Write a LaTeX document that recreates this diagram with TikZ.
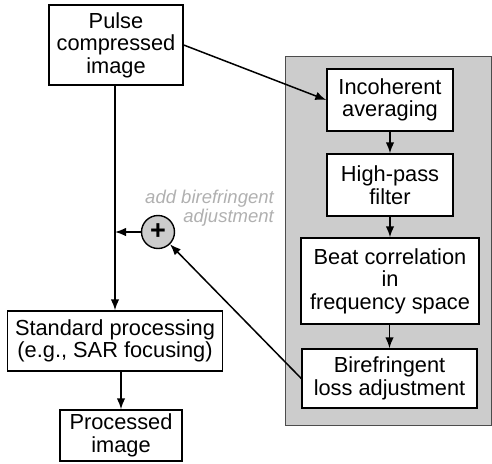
\documentclass[tikz,border=0pt]{standalone}
\usepackage{fontspec}
\setmainfont{Liberation Sans}
\usetikzlibrary{arrows.meta}
\definecolor{panelgray}{HTML}{CCCCCC}
\definecolor{labelgray}{HTML}{B0B0B0}
\tikzset{
  box/.style={draw=black, line width=1.4pt, fill=white, align=center, inner sep=0pt,
    font=\fontsize{21.8}{22.5}\selectfont},
  conn/.style={line width=1.5pt, -{Latex[length=11pt,width=8.5pt]}},
  panel/.style={draw=black!70, line width=0.8pt, fill=panelgray},
  sumnode/.style={circle, draw=black, line width=1.4pt, fill=panelgray, minimum size=33pt, inner sep=0pt},
  note/.style={text=labelgray, font=\fontsize{18.5}{19}\selectfont\itshape, align=right, inner sep=0pt}
}
\begin{document}
\begin{tikzpicture}[x=1pt,y=-1pt]
\useasboundingbox (0,0) rectangle (492,463);
\draw[panel] (285,56) rectangle (491,425);
\node[box, minimum width=134pt, minimum height=80pt] (pulse) at (116,45) {Pulse\\compressed\\image};
\node[box, minimum width=126pt, minimum height=62pt] (incoh) at (390,100) {Incoherent\\averaging};
\node[box, minimum width=126pt, minimum height=62pt] (hpf) at (390,185) {High-pass\\filter};
\node[box, minimum width=178pt, minimum height=86pt] (beat) at (390,281) {Beat correlation\\in\\frequency space};
\node[box, minimum width=175pt, minimum height=59pt] (biref) at (389.5,378.5) {Birefringent\\loss adjustment};
\node[box, minimum width=215pt, minimum height=60pt] (std) at (115,341) {Standard processing\\(e.g., SAR focusing)};
\node[box, minimum width=122pt, minimum height=51pt] (proc) at (121,435.5) {Processed\\image};
\node[sumnode] (sum) at (158,232) {\fontsize{27}{27}\selectfont\bfseries +};
\node[note, anchor=east] (lbl) at (274,208.5) {add birefringent\\adjustment};
\coordinate (join) at (115,232);
\draw[conn] (pulse.south -| std.north) -- (std.north);
\draw[conn] (pulse.east) -- (incoh.west);
\draw[conn] (incoh) -- (hpf);
\draw[conn] (hpf) -- (hpf |- beat.north);
\draw[conn] (beat.south -| biref.north) -- (biref.north);
\draw[conn] (biref.west) -- (sum);
\draw[conn] (sum) -- (join);
\draw[conn] (std.south -| proc.north) -- (proc.north);
\end{tikzpicture}
\end{document}
